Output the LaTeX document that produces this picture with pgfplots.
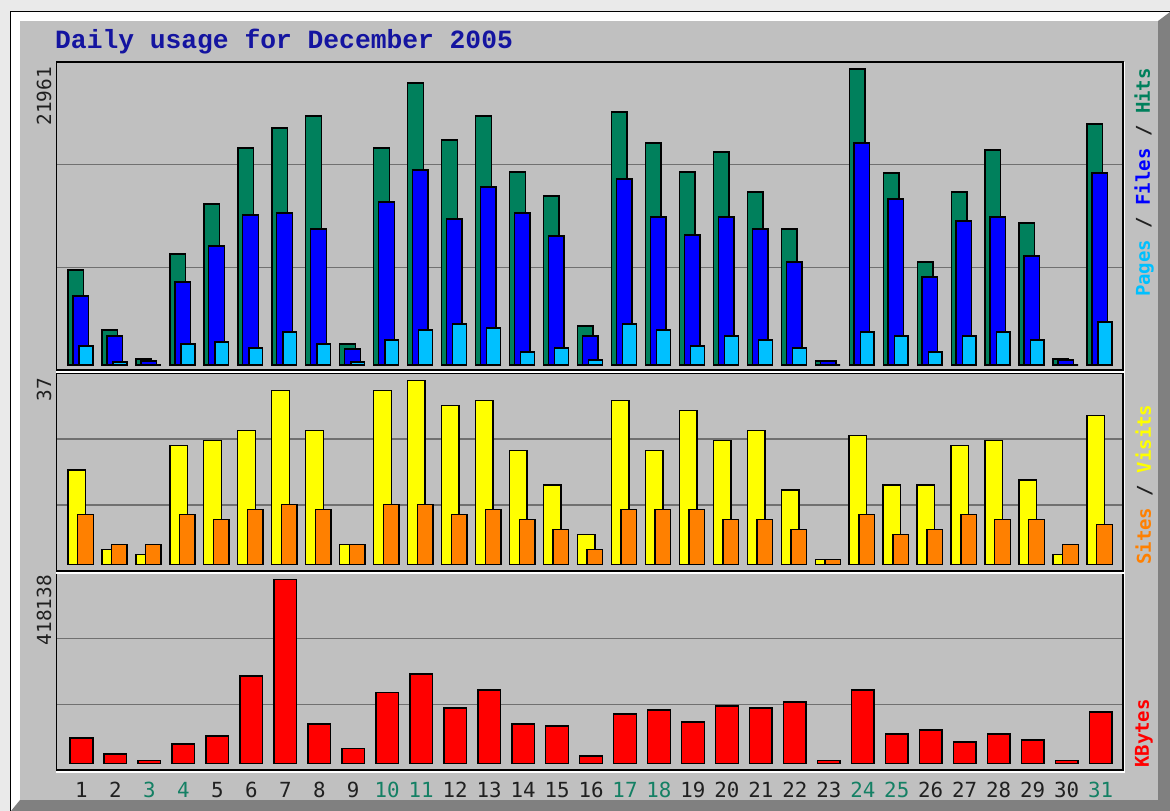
\documentclass[border=0pt]{standalone}
\usepackage{pgfplots}
\pgfplotsset{compat=1.18}
\usepackage{pgfplotstable}
\usepackage{fontspec}
\setmainfont{DejaVu Sans Mono}
\newfontfamily\titlefont{Liberation Mono}
\newfontfamily\labfont{DejaVu Sans Mono}
\definecolor{bggray}{RGB}{192,192,192}
\definecolor{hitc}{RGB}{0,128,92}
\definecolor{filec}{RGB}{0,0,255}
\definecolor{pagec}{RGB}{0,192,255}
\definecolor{visitc}{RGB}{255,255,0}
\definecolor{sitec}{RGB}{255,128,0}
\definecolor{kbc}{RGB}{255,0,0}
\definecolor{gridc}{RGB}{112,112,112}
\definecolor{titlec}{RGB}{20,20,160}
\definecolor{wk}{RGB}{20,128,100}
\definecolor{shadowc}{RGB}{128,128,128}
\definecolor{outerc}{RGB}{234,234,234}
\definecolor{txtc}{RGB}{32,32,32}

\pgfplotstableread{
day hits files pages
1 7048 5119 1410
2 2597 2152 223
3 445 297 0
4 8235 6158 1558
5 11945 8829 1706
6 16099 11128 1261
7 17583 11277 2448
8 18473 10090 1558
9 1558 1187 223
10 16099 12093 1855
11 20922 14467 2597
12 16693 10832 3042
13 18473 13206 2745
14 14319 11277 964
15 12538 9570 1261
16 2893 2152 371
17 18770 13799 3042
18 16470 10980 2597
19 14319 9645 1410
20 15803 10980 2152
21 12835 10090 1855
22 10090 7642 1261
23 297 297 0
24 21961 16470 2448
25 14244 12315 2152
26 7642 6529 964
27 12835 10683 2152
28 15951 10980 2448
29 10535 8087 1855
30 445 371 0
31 17880 14244 3190
}\topdata

\pgfplotstableread{
day visits sites
1 19 10
2 3 4
3 2 4
4 24 10
5 25 9
6 27 11
7 35 12
8 27 11
9 4 4
10 35 12
11 37 12
12 32 10
13 33 11
14 23 9
15 16 7
16 6 3
17 33 11
18 23 11
19 31 11
20 25 9
21 27 9
22 15 7
23 1 1
24 26 10
25 16 6
26 16 7
27 24 10
28 25 9
29 17 9
30 2 4
31 30 8
}\middata

\pgfplotstableread{
day kbytes
1 57500
2 21100
3 5900
4 43900
5 62000
6 198400
7 418138
8 89300
9 34100
10 161300
11 202900
12 125700
13 166600
14 89300
15 84800
16 16600
17 112000
18 121100
19 93900
20 130200
21 125700
22 139300
23 5900
24 166600
25 66600
26 75700
27 48400
28 66600
29 52900
30 5900
31 116600
}\botdata

\pgfplotsset{
  panel/.style={
    scale only axis,
    width=1066.4pt,
    xmin=0.267, xmax=31.66,
    anchor=south west,
    axis line style={black, line width=1.6pt},
    ymajorgrids,
    grid style={gridc, line width=1.4pt},
    scaled ticks=false,
    yticklabels={},
    xtick=\empty,
    major tick length=0pt,
  },
  barstyle/.style={ybar, draw=black, line width=1.4pt},
}

\begin{document}
\begin{tikzpicture}[x=1pt,y=1pt]
\useasboundingbox (0,0) rectangle (1170,811);
% frame and bevel
\fill[outerc] (0,0) rectangle (1170,811);
\fill[black] (10,0) rectangle (1170,800);
\fill[white] (11,0) rectangle (1170,799);
\fill[shadowc] (1170,799) -- (1170,0) -- (11,0) -- (20,11) -- (1158,11) -- (1158,790) -- cycle;
\fill[bggray] (20,11) rectangle (1158,790);

% title
\node[anchor=base west, inner sep=0pt, text=titlec,
      font=\titlefont\bfseries\fontsize{26.3}{30}\selectfont] at (55,762) {Daily usage for December 2005};

% top panel: hits / files / pages
\begin{axis}[panel, at={(56.6pt,441pt)}, height=308pt,
  ymin=-371, ymax=22480, ytick={7248,14860}]
\addplot[barstyle, bar width=15.6pt, bar shift=-5.7pt, fill=hitc] table[x=day,y=hits]{\topdata};
\addplot[barstyle, bar width=15.6pt, bar shift=-0.8pt, fill=filec] table[x=day,y=files]{\topdata};
\addplot[barstyle, bar width=13.8pt, bar shift=4.5pt, fill=pagec] table[x=day,y=pages]{\topdata};
\end{axis}

% middle panel: visits / sites
\begin{axis}[panel, at={(56.6pt,240pt)}, height=198pt,
  ymin=-1.35, ymax=38.57, ytick={11.96,25.26}]
\addplot[barstyle, bar width=17.6pt, bar shift=-4.8pt, fill=visitc] table[x=day,y=visits]{\middata};
\addplot[barstyle, bar width=15.6pt, bar shift=3.9pt, fill=sitec] table[x=day,y=sites]{\middata};
\end{axis}

% bottom panel: kbytes
\begin{axis}[panel, at={(56.6pt,41pt)}, height=197pt,
  ymin=-15226, ymax=432457, ytick={134078,283154},
  xtick={1,...,31},
  xticklabels={1,2,\textcolor{wk}{3},\textcolor{wk}{4},5,6,7,8,9,\textcolor{wk}{10},\textcolor{wk}{11},12,13,14,15,16,\textcolor{wk}{17},\textcolor{wk}{18},19,20,21,22,23,\textcolor{wk}{24},\textcolor{wk}{25},26,27,28,29,30,\textcolor{wk}{31}},
  xticklabel style={font=\labfont\fontsize{20.8}{24}\selectfont, text=txtc, anchor=base, yshift=-28pt, inner sep=0pt}]
\addplot[barstyle, bar width=22.6pt, bar shift=0pt, fill=kbc] table[x=day,y=kbytes]{\botdata};
\end{axis}

% white highlight lines right/bottom of panels
\foreach \yb/\yt in {439/749, 238/438, 39/238} {
  \draw[white, line width=1.3pt] (55.8,\yb) -- (1124.8,\yb) -- (1124.8,\yt);
}

% left max labels
\node[rotate=90, anchor=east, inner sep=0pt, text=txtc, font=\labfont\fontsize{19.4}{22}\selectfont] at (44,744) {21961};
\node[rotate=90, anchor=east, inner sep=0pt, text=txtc, font=\labfont\fontsize{19.4}{22}\selectfont] at (44,433) {37};
\node[rotate=90, anchor=east, inner sep=0pt, text=txtc, font=\labfont\fontsize{19.4}{22}\selectfont] at (44,236) {418138};

% right series labels
\node[rotate=90, anchor=east, inner sep=0pt, text=txtc, font=\labfont\bfseries\fontsize{19}{22}\selectfont] at (1144,743)
  {\textcolor{pagec}{Pages} / \textcolor{filec}{Files} / \textcolor{hitc}{Hits}};
\node[rotate=90, anchor=west, inner sep=0pt, text=txtc, font=\labfont\bfseries\fontsize{19}{22}\selectfont] at (1144,246)
  {\textcolor{sitec}{Sites} / \textcolor{visitc}{Visits}};
\node[rotate=90, anchor=west, inner sep=0pt, font=\labfont\bfseries\fontsize{19}{22}\selectfont] at (1144,43)
  {\textcolor{kbc}{KBytes}};
\end{tikzpicture}
\end{document}
